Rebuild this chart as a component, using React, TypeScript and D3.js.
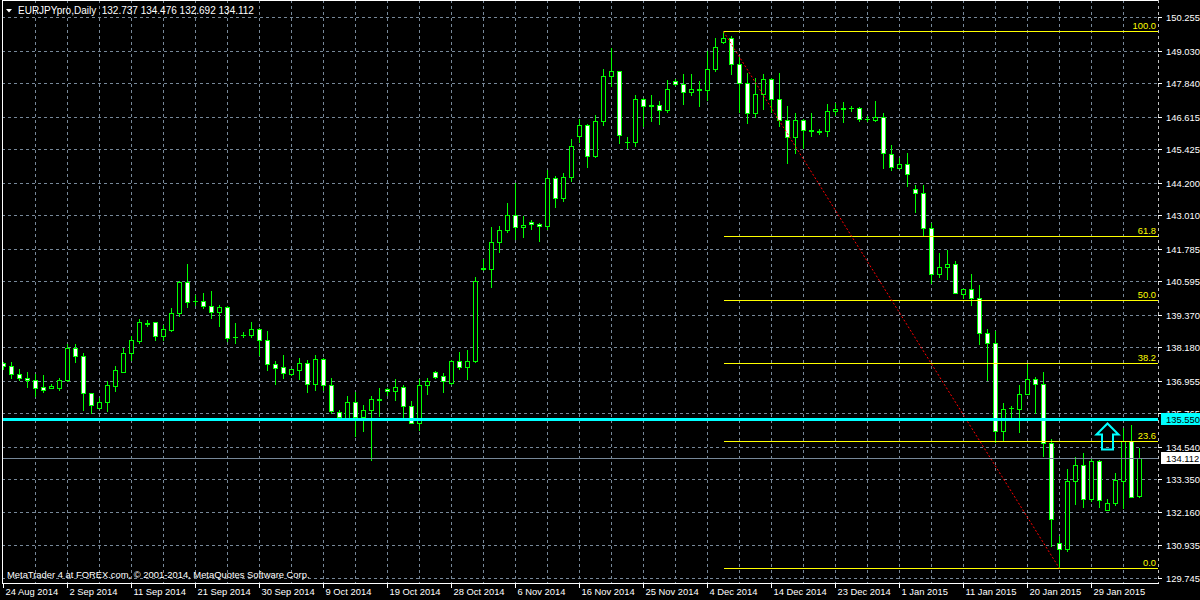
import React from "react";
import * as d3 from "d3";

const symbolTitle = "EURJPYpro,Daily";
const titleQuote = "132.737 134.476 132.692 134.112";

const opens = [
  137.59, 137.5, 137.21, 137.07, 136.99, 136.71, 136.7, 136.68, 136.97, 138.16,
  137.87, 136.51, 135.95, 136.17, 136.75, 137.29, 137.96, 138.4, 139.04, 139.09,
  138.58, 138.8, 139.42, 140.57, 139.86, 139.88, 139.7, 139.46, 139.66, 138.54,
  138.61, 138.61, 138.83, 138.46, 137.58, 137.44, 137.2, 137.34, 137.61, 136.83,
  137.76, 136.81, 135.82, 135.6, 136.19, 135.61, 135.88, 136.26, 136.66, 136.57,
  136.73, 136.04, 135.42, 136.79, 137.28, 137.11, 136.88, 137.68, 137.45, 137.67,
  141.05, 141.03, 142.02, 142.46, 143.02, 142.57, 142.77, 142.7, 142.61, 144.38,
  143.63, 144.4, 145.9, 146.32, 145.17, 146.44, 148.09, 148.29, 145.67, 145.68,
  147.27, 147.0, 147.05, 146.85, 147.92, 147.82, 147.51, 147.59, 147.58, 148.34,
  149.36, 149.5, 148.55, 147.85, 146.75, 147.46, 147.99, 147.27, 146.5, 145.88,
  146.5, 146.1, 146.07, 146.08, 146.81, 146.9, 146.93, 146.94, 146.51, 146.48,
  146.61, 145.26, 144.73, 144.89, 143.98, 143.83, 142.55, 140.86, 141.12, 141.23,
  140.13, 140.31, 139.98, 138.71, 138.34, 135.11, 135.94, 135.93, 136.48, 137.0,
  136.84, 134.68, 131.01, 130.79, 133.28, 133.88, 132.64, 134.03, 132.23, 132.49,
  133.28, 134.74, 132.737,
];
const highs = [
  137.63, 137.65, 137.4, 137.29, 137.21, 137.18, 136.82, 137.04, 138.31, 138.28,
  137.98, 136.52, 136.33, 136.94, 137.49, 138.16, 138.58, 139.2, 139.16, 139.1,
  138.98, 139.62, 140.59, 141.21, 140.1, 140.17, 140.22, 139.74, 139.67, 139.05,
  138.72, 139.12, 138.87, 138.79, 137.69, 137.88, 137.38, 137.77, 137.73, 137.91,
  137.79, 137.06, 135.87, 136.38, 136.55, 136.05, 136.39, 136.7, 136.68, 137.0,
  136.78, 136.2, 137.0, 137.07, 137.3, 137.22, 137.71, 138.02, 138.07, 140.76,
  141.39, 142.56, 142.6, 143.44, 144.19, 142.97, 142.82, 142.74, 144.68, 144.44,
  144.56, 145.8, 146.51, 146.34, 146.68, 148.34, 149.13, 148.3, 145.88, 147.39,
  147.28, 147.42, 147.17, 147.97, 148.0, 148.16, 148.19, 147.91, 149.01, 149.5,
  149.74, 149.56, 148.8, 148.22, 148.02, 148.16, 148.03, 148.22, 147.02, 146.75,
  146.51, 146.73, 146.17, 147.09, 147.12, 147.14, 147.0, 146.98, 146.63, 147.2,
  146.73, 145.56, 145.11, 145.29, 144.1, 144.12, 142.71, 141.63, 141.72, 141.35,
  140.32, 140.87, 140.47, 138.86, 138.79, 136.14, 136.04, 136.81, 137.61, 137.08,
  137.29, 134.83, 131.27, 133.71, 134.17, 134.32, 134.14, 134.07, 132.64, 133.59,
  135.23, 135.35, 134.476,
];
const lows = [
  137.39, 137.04, 136.97, 136.72, 136.39, 136.54, 136.68, 136.61, 136.94, 137.63,
  135.9, 135.76, 135.94, 135.83, 136.56, 137.27, 137.71, 138.33, 138.94, 138.44,
  138.44, 138.76, 139.31, 139.64, 139.71, 139.6, 139.24, 138.95, 138.39, 138.32,
  138.55, 138.56, 137.88, 137.34, 136.83, 137.07, 137.15, 137.0, 136.54, 136.63,
  136.61, 135.78, 135.6, 135.54, 134.93, 135.1, 134.07, 135.68, 136.44, 136.24,
  135.63, 135.39, 135.15, 136.45, 137.06, 136.54, 136.85, 137.37, 137.0, 137.63,
  140.99, 140.38, 141.65, 142.41, 142.13, 142.21, 142.52, 142.05, 142.52, 143.3,
  143.51, 144.25, 145.68, 144.76, 145.15, 146.32, 147.73, 145.66, 145.47, 145.53,
  146.26, 146.45, 146.36, 146.78, 147.78, 147.06, 147.42, 147.0, 147.22, 148.28,
  149.29, 148.16, 146.78, 146.39, 146.61, 146.91, 146.78, 146.27, 144.92, 145.27,
  145.47, 145.9, 145.97, 145.9, 146.69, 146.41, 146.81, 146.45, 146.45, 146.47,
  144.72, 144.68, 144.72, 144.09, 143.12, 142.24, 140.54, 140.75, 140.66, 140.15,
  139.99, 139.71, 138.29, 136.97, 134.71, 134.74, 135.59, 135.07, 136.47, 135.78,
  134.19, 130.89, 130.11, 130.71, 132.43, 132.33, 132.55, 132.34, 132.22, 132.39,
  132.31, 132.7, 132.692,
];
const closes = [
  137.49, 137.19, 137.05, 136.97, 136.68, 136.61, 136.75, 136.99, 138.16, 137.85,
  136.5, 136.07, 136.19, 136.78, 137.33, 137.98, 138.43, 139.09, 139.08, 138.58,
  138.83, 139.44, 140.57, 139.84, 139.88, 139.68, 139.46, 139.66, 138.51, 138.56,
  138.63, 138.83, 138.44, 137.55, 137.41, 137.24, 137.37, 137.61, 136.83, 137.75,
  136.79, 135.84, 135.62, 136.19, 135.62, 135.89, 136.27, 136.3, 136.57, 136.73,
  136.02, 135.42, 136.81, 136.95, 137.08, 136.93, 137.68, 137.46, 137.68, 140.61,
  141.09, 142.03, 142.47, 143.02, 142.57, 142.66, 142.68, 142.61, 144.38, 143.63,
  144.41, 145.55, 146.32, 145.17, 146.46, 148.11, 148.29, 145.93, 145.7, 147.27,
  147.0, 147.04, 146.85, 147.63, 147.82, 147.51, 147.63, 147.62, 148.36, 149.17,
  149.5, 148.55, 147.85, 146.75, 147.46, 147.99, 147.27, 146.5, 145.88, 146.5,
  146.13, 146.13, 146.09, 146.83, 146.9, 146.93, 146.94, 146.53, 146.53, 146.61,
  145.28, 144.76, 144.89, 144.51, 143.83, 142.53, 140.86, 141.12, 141.23, 140.18,
  140.31, 139.98, 138.71, 138.34, 135.13, 135.92, 135.96, 136.48, 137.0, 136.84,
  134.68, 131.89, 130.79, 133.3, 133.88, 132.64, 134.03, 132.6, 132.49, 133.31,
  134.74, 132.71, 134.112,
];

const dateLabels = [
  "24 Aug 2014", "2 Sep 2014", "11 Sep 2014", "21 Sep 2014", "30 Sep 2014",
  "9 Oct 2014", "19 Oct 2014", "28 Oct 2014", "6 Nov 2014", "16 Nov 2014",
  "25 Nov 2014", "4 Dec 2014", "14 Dec 2014", "23 Dec 2014", "1 Jan 2015",
  "11 Jan 2015", "20 Jan 2015", "29 Jan 2015",
];
const dateLabelBars = [0, 8, 16, 24, 32, 40, 48, 56, 64, 72, 80, 88, 96, 104, 112, 120, 128, 136];

const priceTicks = [
  150.255, 149.03, 147.84, 146.615, 145.425, 144.2, 143.01, 141.785, 140.595,
  139.37, 138.18, 136.955, 135.765, 134.54, 133.35, 132.16, 130.935, 129.745,
];

const fibLevels = [0, 23.6, 38.2, 50, 61.8, 100];
const fibHighBar = 90;
const fibHighPrice = 149.74;
const fibLowBar = 132;
const fibLowPrice = 130.11;

const supportPrice = 135.55;
const bidPrice = 134.112;
const arrowBar = 138;
const arrowPrice = 135.39;

const watermark = "MetaTrader 4 at FOREX.com, \u00a9 2001-2014, MetaQuotes Software Corp.";

export default function App() {
  const n = opens.length;
  const L = 2, R = 1158, T = 0, B = 583;
  const x = d3.scaleLinear().domain([0, n - 1]).range([3.5, 3.5 + 8 * (n - 1)]);
  const y = d3.scaleLinear().domain([129.745, 150.255]).range([578.3, 17.6]);
  const py = (p: number) => Math.floor(y(p)) + 0.5;
  const font = "'Liberation Sans', Arial, sans-serif";
  const fs = 9.4;
  const lime = "#00ff00";
  const gridColor = "#778899";

  const gridBars = d3.range(4, 141, 4);

  const fibRange = fibHighPrice - fibLowPrice;

  const ax = x(arrowBar);
  const at = py(arrowPrice);
  const arrowPath = [
    [ax, at], [ax + 11, at + 11], [ax + 5.5, at + 11], [ax + 5.5, at + 26],
    [ax - 5.5, at + 26], [ax - 5.5, at + 11], [ax - 11, at + 11],
  ];

  return (
    <svg
      width={1200}
      height={600}
      style={{ position: "fixed", left: 0, top: 0, display: "block" }}
      fontFamily={font}
    >
      <defs>
        <clipPath id="plot">
          <rect x={L + 1} y={T + 1} width={R - L - 1} height={B - T - 1} />
        </clipPath>
      </defs>
      <rect x={0} y={0} width={1200} height={600} fill="#000" />

      {/* grid */}
      <g shapeRendering="crispEdges" stroke={gridColor} strokeDasharray="3,3">
        {priceTicks.map((p, i) => (
          <line key={"h" + i} x1={L} x2={R} y1={py(p)} y2={py(p)} />
        ))}
        {gridBars.map((b) => (
          <line key={"v" + b} x1={x(b)} x2={x(b)} y1={T} y2={B} />
        ))}
      </g>

      {/* candles */}
      <g clipPath="url(#plot)" shapeRendering="crispEdges">
        {opens.map((o, i) => {
          const c = closes[i];
          const cx = x(i);
          const yH = py(highs[i]);
          const yL = py(lows[i]);
          const yO = py(o);
          const yC = py(c);
          const top = Math.min(yO, yC);
          const bot = Math.max(yO, yC);
          const bull = c > o;
          return (
            <g key={i}>
              <line x1={cx} x2={cx} y1={yH - 0.5} y2={yL + 0.5} stroke={lime} />
              {bot - top < 1 ? (
                <line x1={cx - 2.5} x2={cx + 2.5} y1={top} y2={top} stroke={lime} />
              ) : (
                <rect
                  x={cx - 2}
                  y={top}
                  width={4}
                  height={bot - top}
                  fill={bull ? "#000" : "#fff"}
                  stroke={lime}
                />
              )}
            </g>
          );
        })}
      </g>

      {/* fibonacci */}
      <g shapeRendering="crispEdges">
        {fibLevels.map((lv) => {
          const yy = py(fibLowPrice + (fibRange * lv) / 100);
          return (
            <g key={"f" + lv}>
              <line x1={x(fibHighBar)} x2={R} y1={yy} y2={yy} stroke="#ffff00" />
              <text
                x={1156}
                y={yy - 2.5}
                textAnchor="end"
                fill="#ffff00"
                fontSize={fs}
              >
                {lv.toFixed(1)}
              </text>
            </g>
          );
        })}
      </g>
      <line
        x1={x(fibHighBar)}
        y1={py(fibHighPrice)}
        x2={x(fibLowBar)}
        y2={py(fibLowPrice)}
        stroke="#ff0000"
        strokeDasharray="2,2"
      />

      {/* horizontal lines */}
      <line
        x1={L}
        x2={R}
        y1={py(bidPrice)}
        y2={py(bidPrice)}
        stroke={gridColor}
        shapeRendering="crispEdges"
      />
      <line
        x1={L}
        x2={R}
        y1={py(supportPrice)}
        y2={py(supportPrice)}
        stroke="#00ffff"
        strokeWidth={3}
        shapeRendering="crispEdges"
      />

      {/* arrow */}
      <path
        d={d3.line()(arrowPath as [number, number][]) + "Z"}
        fill="none"
        stroke="#00ffff"
        strokeWidth={2}
      />

      {/* frame */}
      <g shapeRendering="crispEdges">
        <line x1={L + 0.5} x2={L + 0.5} y1={T} y2={B + 0.5} stroke="#fff" />
        <line x1={L} x2={R + 1} y1={T + 0.5} y2={T + 0.5} stroke="#fff" />
        <line x1={L} x2={R + 1} y1={B + 0.5} y2={B + 0.5} stroke="#fff" />
        <line x1={R + 0.5} x2={R + 0.5} y1={T} y2={B} stroke="#c0c0c0" strokeDasharray="3,3" />
      </g>

      {/* price axis */}
      <g shapeRendering="crispEdges">
        {priceTicks.map((p, i) => (
          <g key={"pt" + i}>
            <line x1={R} x2={R + 4} y1={py(p)} y2={py(p)} stroke="#fff" />
            <text x={1166} y={py(p) + 3.5} fill="#fff" fontSize={fs}>
              {p.toFixed(3)}
            </text>
          </g>
        ))}
        <rect x={1161} y={py(supportPrice) - 6.5} width={40} height={12} fill="#00ffff" />
        <text x={1166} y={py(supportPrice) + 3.5} fill="#000" fontSize={fs}>
          {supportPrice.toFixed(3)}
        </text>
        <rect x={1161} y={py(bidPrice) - 6.5} width={40} height={12} fill="#fff" />
        <text x={1166} y={py(bidPrice) + 3.5} fill="#000" fontSize={fs}>
          {bidPrice.toFixed(3)}
        </text>
      </g>

      {/* time axis */}
      <g shapeRendering="crispEdges">
        {dateLabels.map((d, i) => (
          <g key={"d" + i}>
            <line
              x1={x(dateLabelBars[i])}
              x2={x(dateLabelBars[i])}
              y1={B}
              y2={B + 5}
              stroke="#fff"
            />
            <text x={x(dateLabelBars[i]) + 2} y={595} fill="#fff" fontSize={fs}>
              {d}
            </text>
          </g>
        ))}
      </g>

      {/* title */}
      <path d="M6,9 L12,9 L9,12.5 Z" fill="#fff" />
      <text x={18} y={14} fill="#fff" fontSize={10} xmlSpace="preserve">
        {symbolTitle + "  " + titleQuote}
      </text>

      {/* watermark */}
      <text x={7} y={578} fill="#fff" fontSize={fs}>
        {watermark}
      </text>
    </svg>
  );
}
